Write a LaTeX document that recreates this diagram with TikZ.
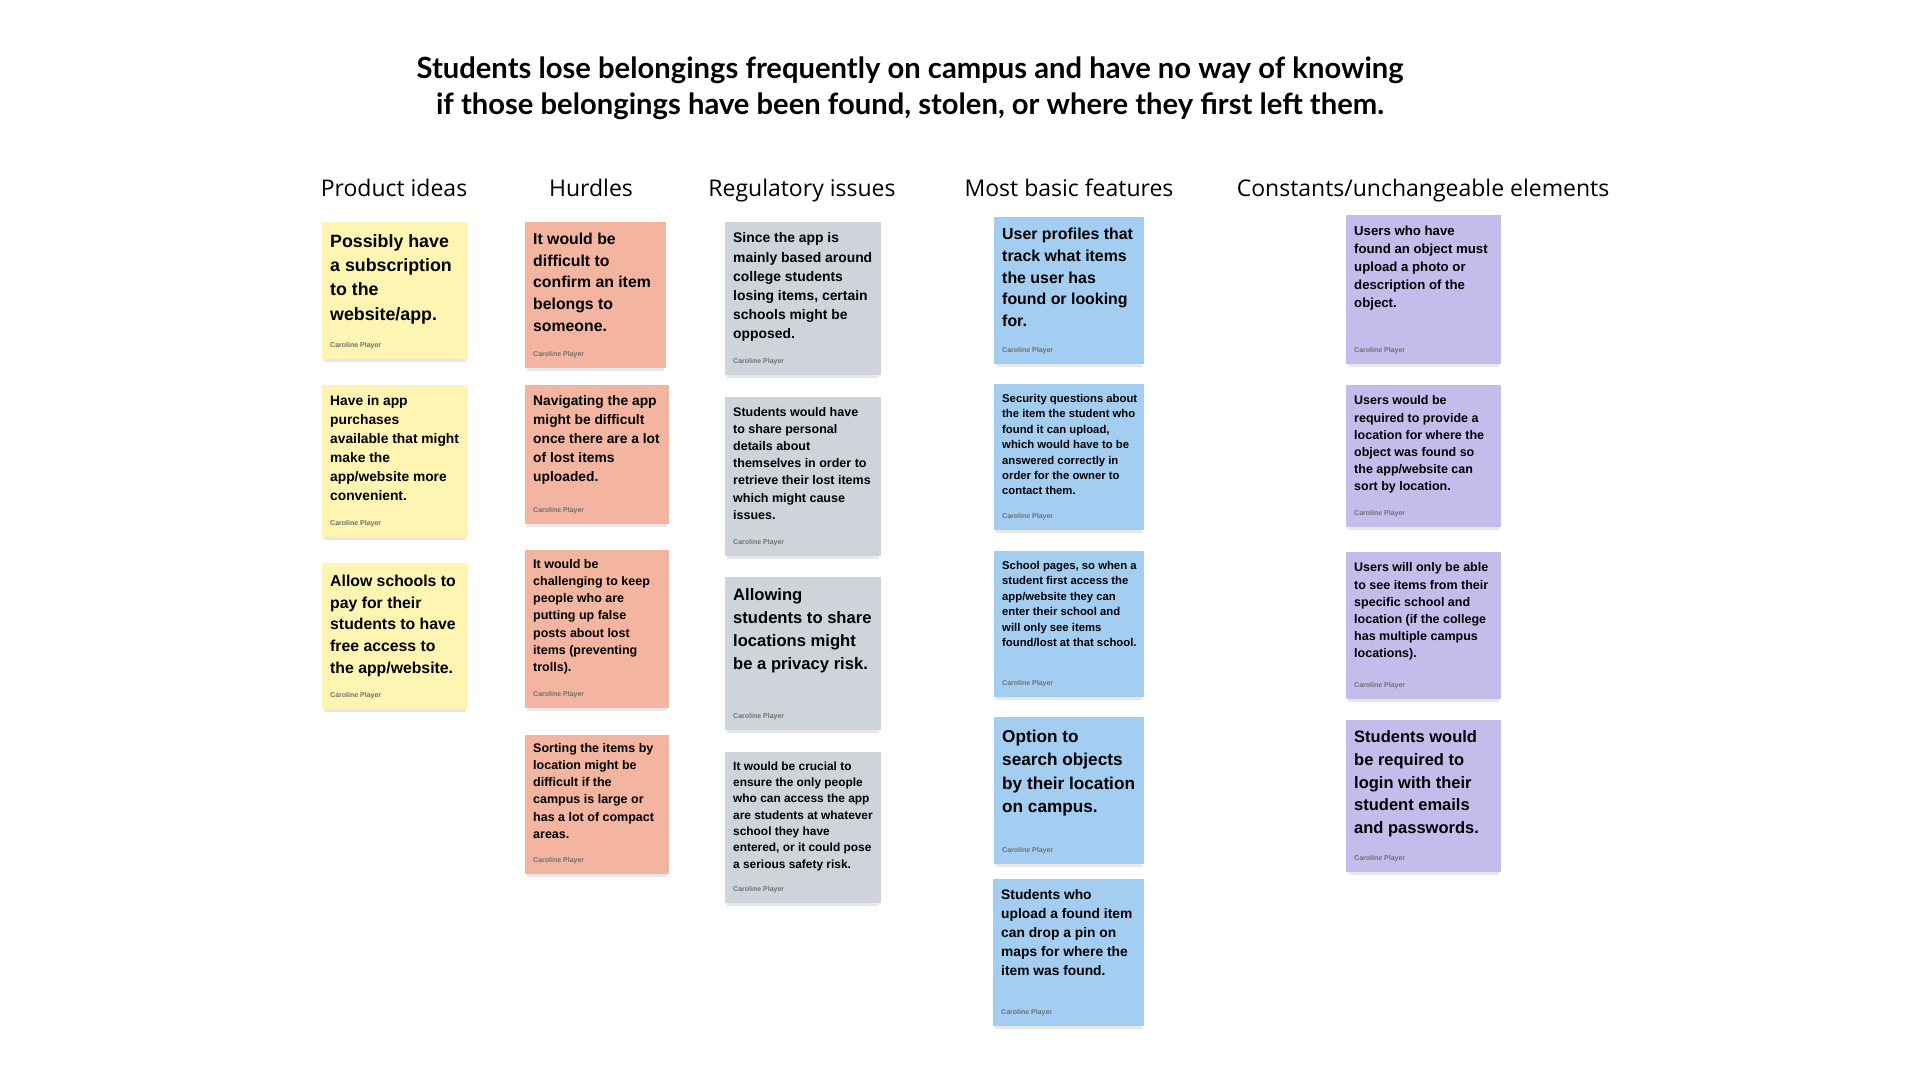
\documentclass[tikz,border=0pt]{standalone}
\usepackage{fontspec}
\setmainfont{Liberation Sans}
\newfontfamily\headfont{Open Sans}
\newfontfamily\titlefont{Lato}
\definecolor{yel}{HTML}{FDF5B1}
\definecolor{sal}{HTML}{F4B5A0}
\definecolor{gry}{HTML}{CFD3DA}
\definecolor{blu}{HTML}{A4CDF2}
\definecolor{pur}{HTML}{C4BDEC}
\definecolor{authgray}{HTML}{707070}

\begin{document}
\begin{tikzpicture}[x=1pt,y=-1pt,
    note/.style={rectangle, anchor=north west, inner sep=0, outer sep=0},
    txt/.style={anchor=north west, inner sep=0, align=left},
    fs/.style={font=\bfseries\fontsize{#1}{\fpeval{1.37*#1}}\selectfont},
    auth/.style={anchor=west, inner sep=0, text=authgray, font=\bfseries\fontsize{7}{8}\selectfont},
    colhead/.style={anchor=base, inner sep=0, font=\headfont\fontsize{23}{28}\selectfont},
    shade/.style={fill=black!9}]

      \useasboundingbox[fill=white] (0,0) rectangle (1920,1080);

      % title
      \node[align=center, inner sep=0, font=\titlefont\bfseries\fontsize{29.2}{36}\selectfont] (title) at (910,88)
          {Students lose belongings frequently on campus and have no way of knowing\\
           if those belongings have been found, stolen, or where they first left them.};

      % column heads
      \node[colhead] (hpi) at (394,196) {Product ideas};
      \node[colhead] (hhu) at (591,196) {Hurdles};
      \node[colhead] (hrg) at (802,196) {Regulatory issues};
      \node[colhead] (hbf) at (1069,196) {Most basic features};
      \node[colhead] (hce) at (1423,196) {Constants/unchangeable elements};

      % Product ideas
      \node[note, fill=yel, minimum width=146, minimum height=137] (pi1) at (322,222) {};
      \node[txt, fs=17.8] (pi1t) at ([shift={(8,12)}]pi1.north west) {Possibly have\\a subscription\\to the\\website/app.};
      \node[note, fill=yel, minimum width=146, minimum height=152] (pi2) at (322,385) {};
      \node[txt, fs=13.8] (pi2t) at ([shift={(8,10.5)}]pi2.north west) {Have in app\\purchases\\available that might\\make the\\app/website more\\convenient.};
      \node[note, fill=yel, minimum width=146, minimum height=146] (pi3) at (322,563) {};
      \node[txt, fs=15.8] (pi3t) at ([shift={(8,12)}]pi3.north west) {Allow schools to\\pay for their\\students to have\\free access to\\the app/website.};

      % Hurdles
      \node[note, fill=sal, minimum width=141, minimum height=146] (hu1) at (525,222) {};
      \node[txt, fs=15.8] (hu1t) at ([shift={(8,11)}]hu1.north west) {It would be\\difficult to\\confirm an item\\belongs to\\someone.};
      \node[note, fill=sal, minimum width=144, minimum height=139] (hu2) at (525,385) {};
      \node[txt, fs=13.8] (hu2t) at ([shift={(8,10.5)}]hu2.north west) {Navigating the app\\might be difficult\\once there are a lot\\of lost items\\uploaded.};
      \node[note, fill=sal, minimum width=144, minimum height=158] (hu3) at (525,550) {};
      \node[txt, fs=12.5] (hu3t) at ([shift={(8,9.3)}]hu3.north west) {It would be\\challenging to keep\\people who are\\putting up false\\posts about lost\\items (preventing\\trolls).};
      \node[note, fill=sal, minimum width=144, minimum height=139] (hu4) at (525,735) {};
      \node[txt, fs=12.5] (hu4t) at ([shift={(8,8.3)}]hu4.north west) {Sorting the items by\\location might be\\difficult if the\\campus is large or\\has a lot of compact\\areas.};

      % Regulatory issues
      \node[note, fill=gry, minimum width=156, minimum height=153] (rg1) at (725,222) {};
      \node[txt, fs=13.9] (rg1t) at ([shift={(8,10.7)}]rg1.north west) {Since the app is\\mainly based around\\college students\\losing items, certain\\schools might be\\opposed.};
      \node[note, fill=gry, minimum width=156, minimum height=159] (rg2) at (725,397) {};
      \node[txt, fs=12.5] (rg2t) at ([shift={(8,10.2)}]rg2.north west) {Students would have\\to share personal\\details about\\themselves in order to\\retrieve their lost items\\which might cause\\issues.};
      \node[note, fill=gry, minimum width=156, minimum height=153] (rg3) at (725,577) {};
      \node[txt, fs=16.6] (rg3t) at ([shift={(8,11.7)}]rg3.north west) {Allowing\\students to share\\locations might\\be a privacy risk.};
      \node[note, fill=gry, minimum width=156, minimum height=151] (rg4) at (725,752) {};
      \node[txt, fs=11.9] (rg4t) at ([shift={(8,9.4)}]rg4.north west) {It would be crucial to\\ensure the only people\\who can access the app\\are students at whatever\\school they have\\entered, or it could pose\\a serious safety risk.};

      % Most basic features
      \node[note, fill=blu, minimum width=150, minimum height=147] (bf1) at (994,217) {};
      \node[txt, fs=15.9] (bf1t) at ([shift={(8,10.9)}]bf1.north west) {User profiles that\\track what items\\the user has\\found or looking\\for.};
      \node[note, fill=blu, minimum width=150, minimum height=146] (bf2) at (994,384) {};
      \node[txt, fs=11.3] (bf2t) at ([shift={(8,9.7)}]bf2.north west) {Security questions about\\the item the student who\\found it can upload,\\which would have to be\\answered correctly in\\order for the owner to\\contact them.};
      \node[note, fill=blu, minimum width=150, minimum height=146] (bf3) at (994,551) {};
      \node[txt, fs=11.3] (bf3t) at ([shift={(8,9.7)}]bf3.north west) {School pages, so when a\\student first access the\\app/website they can\\enter their school and\\will only see items\\found/lost at that school.};
      \node[note, fill=blu, minimum width=150, minimum height=147] (bf4) at (994,717) {};
      \node[txt, fs=17.2] (bf4t) at ([shift={(8,12.4)}]bf4.north west) {Option to\\search objects\\by their location\\on campus.};
      \node[note, fill=blu, minimum width=151, minimum height=147] (bf5) at (993,879) {};
      \node[txt, fs=13.8] (bf5t) at ([shift={(8,10.7)}]bf5.north west) {Students who\\upload a found item\\can drop a pin on\\maps for where the\\item was found.};

      % Constants/unchangeable elements
      \node[note, fill=pur, minimum width=155, minimum height=149] (ce1) at (1346,215) {};
      \node[txt, fs=13.2] (ce1t) at ([shift={(8,10.5)}]ce1.north west) {Users who have\\found an object must\\upload a photo or\\description of the\\object.};
      \node[note, fill=pur, minimum width=155, minimum height=142] (ce2) at (1346,385) {};
      \node[txt, fs=12.5] (ce2t) at ([shift={(8,10.7)}]ce2.north west) {Users would be\\required to provide a\\location for where the\\object was found so\\the app/website can\\sort by location.};
      \node[note, fill=pur, minimum width=155, minimum height=147] (ce3) at (1346,552) {};
      \node[txt, fs=12.5] (ce3t) at ([shift={(8,10.7)}]ce3.north west) {Users will only be able\\to see items from their\\specific school and\\location (if the college\\has multiple campus\\locations).};
      \node[note, fill=pur, minimum width=155, minimum height=152] (ce4) at (1346,720) {};
      \node[txt, fs=16.5] (ce4t) at ([shift={(8,10.7)}]ce4.north west) {Students would\\be required to\\login with their\\student emails\\and passwords.};

      % author line and shadow under every note
      \foreach \n in {pi1,pi2,pi3,hu1,hu2,hu3,hu4,rg1,rg2,rg3,rg4,bf1,bf2,bf3,bf4,bf5,ce1,ce2,ce3,ce4} {
          \node[auth] (\n a) at ([shift={(8,-13.5)}]\n.south west) {Caroline Player};
          \fill[shade] ([xshift=2]\n.south west) rectangle ([shift={(-2,3)}]\n.south east);
      }

\end{tikzpicture}
\end{document}
